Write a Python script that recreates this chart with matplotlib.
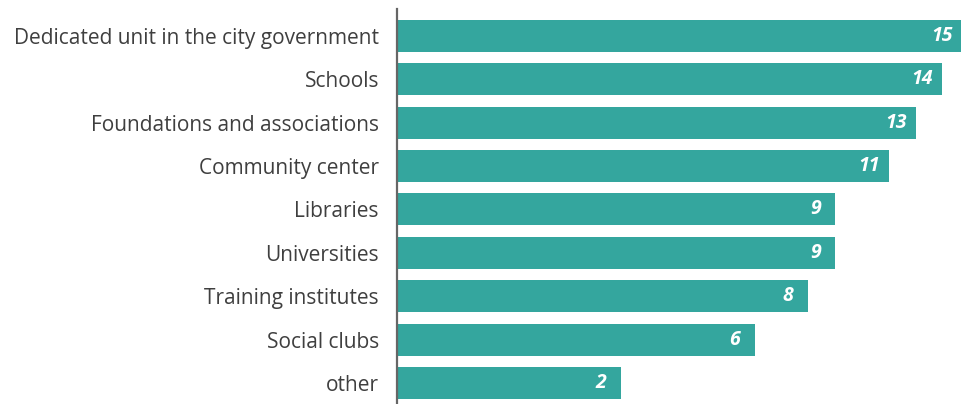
import matplotlib
matplotlib.use("Agg")
import matplotlib.pyplot as plt

categories = [
    "Dedicated unit in the city government",
    "Schools",
    "Foundations and associations",
    "Community center",
    "Libraries",
    "Universities",
    "Training institutes",
    "Social clubs",
    "other",
]
# printed values
counts = [15, 14, 13, 11, 9, 9, 8, 6, 2]
# bar lengths as drawn in the picture (not proportional to the printed values)
lengths = [15.0, 14.47, 13.78, 13.06, 11.63, 11.63, 10.91, 9.50, 5.95]

teal = "#34a69e"
text_grey = "#3f3f3f"

plt.rcParams["font.family"] = ["Open Sans", "DejaVu Sans"]

fig = plt.figure(figsize=(9.62, 4.04), dpi=100)
ax = fig.add_axes([397 / 962, 0, 1 - 397 / 962, 1 - 9 / 404])

ypos = list(range(len(categories)))
ax.barh(ypos, lengths, height=0.738, color=teal, align="center")

ax.set_xlim(0, 15.0)
ax.set_ylim(len(categories) - 1 + 0.484, -0.622)

ax.set_yticks(ypos)
ax.set_yticklabels(categories, fontsize=15, color=text_grey)
ax.tick_params(axis="y", length=0, pad=13)
ax.set_xticks([])

for side in ["top", "right", "bottom"]:
    ax.spines[side].set_visible(False)
ax.spines["left"].set_color("#666666")
ax.spines["left"].set_linewidth(1.6)

for y, l, c in zip(ypos, lengths, counts):
    ax.annotate(str(c), xy=(l, y), xytext=(-20, 0), textcoords="offset pixels",
                ha="center", va="center", color="white", fontsize=14,
                fontweight="bold", fontstyle="italic")

fig.savefig("out.png", dpi=100)
